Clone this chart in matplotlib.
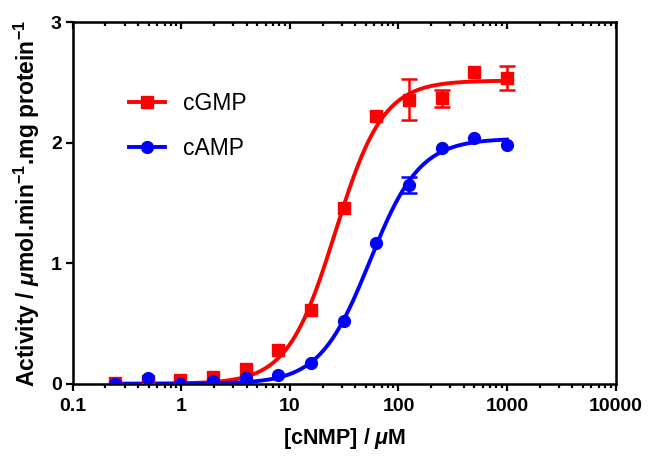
import numpy as np
import matplotlib
matplotlib.use("Agg")
import matplotlib.pyplot as plt
from matplotlib.lines import Line2D

plt.rcParams['font.family'] = ['Liberation Sans', 'DejaVu Sans']
plt.rcParams['mathtext.fontset'] = 'custom'
plt.rcParams['mathtext.rm'] = 'Liberation Sans:bold'
plt.rcParams['mathtext.bf'] = 'Liberation Sans:bold'
plt.rcParams['mathtext.it'] = 'Liberation Sans:italic:bold'

# ---- data ----
conc = [0.244, 0.488, 0.977, 1.95, 3.9, 7.8, 15.6, 31.25, 62.5, 125, 250, 500, 1000]
cgmp = [0.01, 0.02, 0.03, 0.06, 0.12, 0.28, 0.61, 1.46, 2.22, 2.36, 2.37, 2.59, 2.54]
cgmp_err = [0, 0, 0, 0, 0, 0, 0, 0, 0, 0.17, 0.07, 0, 0.10]
camp = [0.0, 0.05, 0.0, 0.02, 0.05, 0.07, 0.17, 0.52, 1.17, 1.65, 1.96, 2.04, 1.98]
camp_err = [0, 0, 0, 0, 0, 0, 0, 0, 0, 0.065, 0, 0, 0]
labels = ['cGMP', 'cAMP']
colors = ['#ff0000', '#0000ff']
markers = ['s', 'o']
xticks = [0.1, 1, 10, 100, 1000, 10000]
xticklabels = ['0.1', '1', '10', '100', '1000', '10000']
yticks = [0, 1, 2, 3]


def hill_fit(x, y):
    """Least-squares Hill fit (bottom = 0) from the plotted points."""
    x = np.asarray(x, float)
    y = np.asarray(y, float)
    le = np.arange(0.5, 3.0, 0.002)[:, None, None]
    n = np.arange(0.5, 4.0, 0.01)[None, :, None]
    f = x[None, None, :] ** n / (10 ** (le * n) + x[None, None, :] ** n)
    top = (f * y).sum(-1) / (f * f).sum(-1)
    sse = ((top[..., None] * f - y) ** 2).sum(-1)
    i, j = np.unravel_index(np.argmin(sse), sse.shape)
    t, e, h = top[i, j], 10 ** le[i, 0, 0], n[0, j, 0]
    return lambda xx: t * xx ** h / (e ** h + xx ** h)


fig = plt.figure(figsize=(6.5, 4.58), dpi=100)
ax = fig.add_axes([0.112, 0.162, 0.835, 0.789])

xs = np.logspace(np.log10(conc[0]), np.log10(conc[-1]), 400)
for yv, ye, c, m in [(cgmp, cgmp_err, colors[0], markers[0]),
                     (camp, camp_err, colors[1], markers[1])]:
    fn = hill_fit(conc, yv)
    ax.plot(xs, fn(xs), color=c, lw=2.8, zorder=3)
    xa, ya, ea = np.array(conc), np.array(yv), np.array(ye)
    k = ea > 0
    ax.errorbar(xa[k], ya[k], yerr=ea[k], fmt='none', ecolor=c,
                elinewidth=1.8, capsize=5.5, capthick=1.8, zorder=4)
    ax.plot(xa, ya, m, color=c, ms=8 if m == 's' else 8.5, zorder=4)

ax.set_xscale('log')
ax.set_xlim(0.1, 10000)
ax.set_ylim(0, 3)
ax.set_xticks(xticks)
ax.set_xticklabels(xticklabels)
ax.set_yticks(yticks)
ax.tick_params(axis='both', which='major', direction='out', length=5, width=1.6,
               labelsize=14, pad=3)
ax.tick_params(axis='x', which='major', pad=5)
ax.tick_params(axis='x', which='minor', direction='out', length=3, width=1.6)
ax.tick_params(axis='y', which='minor', left=False)
for lab in ax.get_xticklabels() + ax.get_yticklabels():
    lab.set_fontweight('bold')
for s in ax.spines.values():
    s.set_linewidth(1.8)

ax2 = ax.twiny()
ax2.set_xscale('log')
ax2.set_xlim(0.1, 10000)
ax2.set_xticks(xticks)
ax2.tick_params(axis='x', which='major', direction='in', length=5, width=1.6,
                labeltop=False)
ax2.tick_params(axis='x', which='minor', direction='in', length=3, width=1.6)
ax2.set_xticklabels([])

ax.set_xlabel(r'[cNMP] / $\mathit{\mu}$M', fontsize=15.5, fontweight='bold', labelpad=8)
ax.set_ylabel(r'Activity / $\mathit{\mu}$mol.min$^{-1}$.mg protein$^{-1}$',
              fontsize=16.5, fontweight='bold', labelpad=6)

handles = [Line2D([], [], color=colors[0], lw=2.8, marker=markers[0], ms=8),
           Line2D([], [], color=colors[1], lw=2.8, marker=markers[1], ms=8.5)]
ax.legend(handles, labels, loc='upper left', bbox_to_anchor=(0.065, 0.865),
          frameon=False, fontsize=16.5, handlelength=1.6, handletextpad=0.75,
          labelspacing=0.95)

fig.savefig('out.png', dpi=100)
